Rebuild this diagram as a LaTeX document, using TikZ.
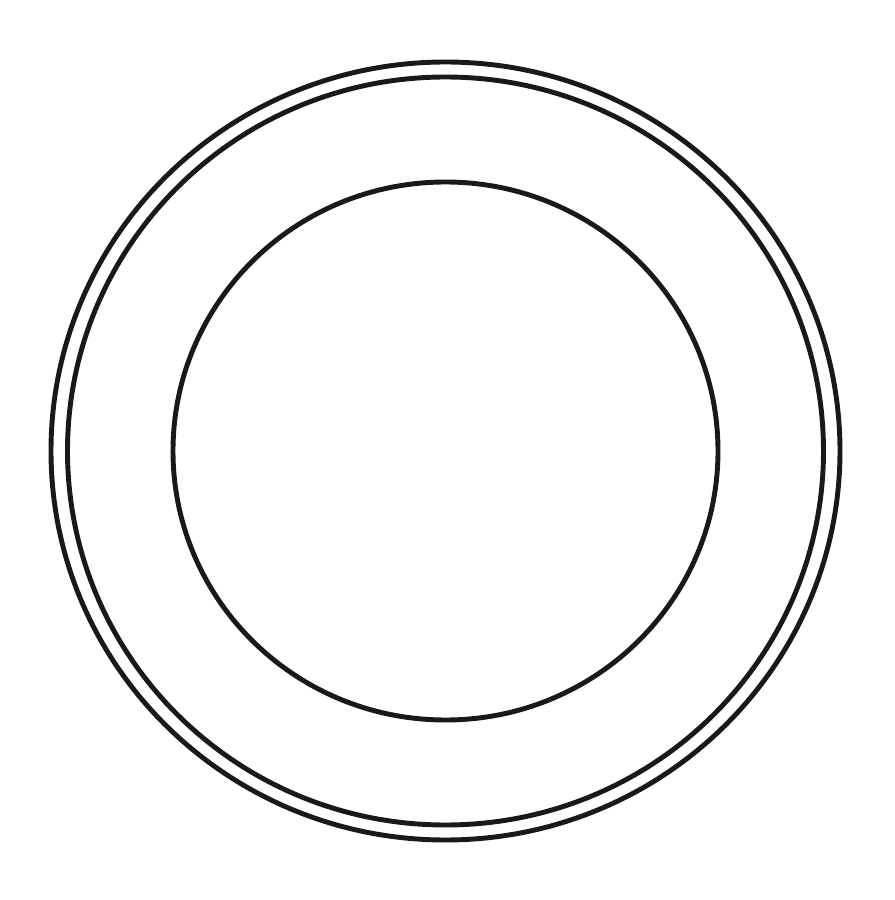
\documentclass[tikz,border=0pt]{standalone}
\usepackage{tikz}

\begin{document}
\begin{tikzpicture}[ring/.style={line width=1.4pt,black!90}]
	\useasboundingbox (0,0) rectangle (8.94,9);
	%center
	\coordinate (c) at (4.455,4.49);

	%outer rim
	\draw[ring] (c) ellipse[x radius=3.945, y radius=3.89];
	\draw[ring] (c) ellipse[x radius=3.78, y radius=3.74];

	%inner ring
	\draw[ring] (c) ellipse[x radius=2.725, y radius=2.69];
\end{tikzpicture}
\end{document}
